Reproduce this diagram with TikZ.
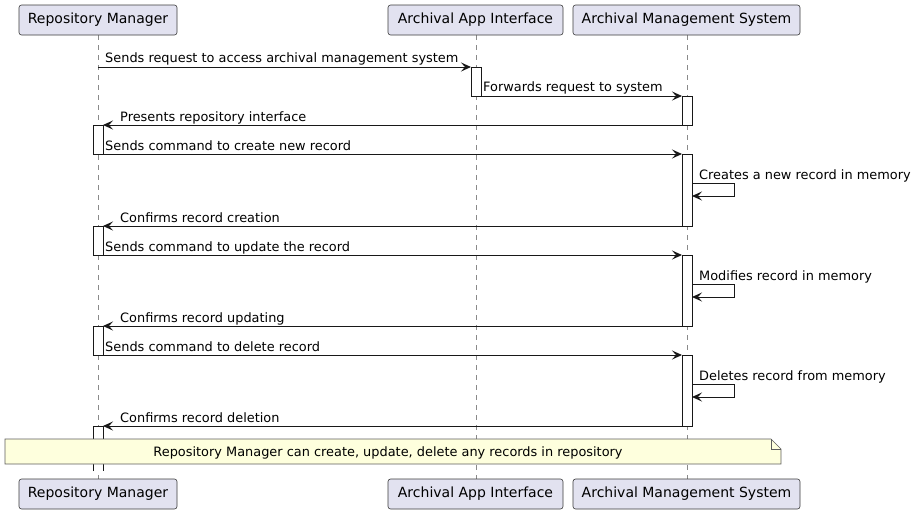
\documentclass[tikz,border=0pt]{standalone}
\usepackage{fontspec}
\setmainfont{DejaVu Sans}
\usetikzlibrary{arrows.meta}
\definecolor{partfill}{HTML}{E2E2F0}
\definecolor{ink}{HTML}{181818}
\definecolor{notefill}{HTML}{FEFFDD}
\definecolor{lifegray}{HTML}{8A8A8A}
\tikzset{
 part/.style={draw=ink!85, fill=partfill, rounded corners=2.5pt, line width=0.6pt, minimum height=30pt, inner sep=0pt, font=\fontsize{14}{16}\selectfont, text=black},
 msg/.style={draw=ink, line width=1pt, -{Stealth[length=10pt,width=9pt,inset=4pt]}},
 lbl/.style={font=\fontsize{12.9}{15}\selectfont, anchor=base west, inner sep=0pt, text=black},
 life/.style={draw=lifegray, line width=0.7pt, dash pattern=on 5pt off 5pt},
 actbar/.style={draw=ink, fill=white, line width=1pt},
 notebox/.style={draw=ink!70, fill=notefill, line width=0.6pt},
}
\begin{document}
\begin{tikzpicture}[x=1pt,y=-1pt]
\useasboundingbox (0,0) rectangle (917,514);
% lifelines
\coordinate (rmT) at (98,35); \coordinate (rmB) at (98,479);
\coordinate (aaT) at (476,35); \coordinate (aaB) at (476,479);
\coordinate (amT) at (687,35); \coordinate (amB) at (687,479);
\draw[life] (rmT) -- (rmB);
\draw[life] (aaT) -- (aaB);
\draw[life] (amT) -- (amB);
% participants
\node[part, minimum width=158pt] (rm1) at (98,20) {Repository Manager};
\node[part, minimum width=175pt] (aa1) at (475.5,20) {Archival App Interface};
\node[part, minimum width=227pt] (am1) at (686.5,20) {Archival Management System};
\node[part, minimum width=158pt] (rm2) at (98,494) {Repository Manager};
\node[part, minimum width=175pt] (aa2) at (475.5,494) {Archival App Interface};
\node[part, minimum width=227pt] (am2) at (686.5,494) {Archival Management System};
% activation bars
\draw[actbar] (471,67) rectangle (481,96);
\draw[actbar] (682,96) rectangle (692,125);
\draw[actbar] (93,125) rectangle (103,154);
\draw[actbar] (682,154) rectangle (692,226);
\draw[actbar] (93,226) rectangle (103,255);
\draw[actbar] (682,255) rectangle (692,326);
\draw[actbar] (93,326) rectangle (103,355);
\draw[actbar] (682,355) rectangle (692,426);
\fill[white] (93,426) rectangle (103,471);
\draw[actbar] (93,471) -- (93,426) -- (103,426) -- (103,471);
% message endpoints
\coordinate (m1s) at (98,67);  \coordinate (m1e) at (471,67);
\coordinate (m2s) at (481,96); \coordinate (m2e) at (682,96);
\coordinate (m3s) at (682,125); \coordinate (m3e) at (103,125);
\coordinate (m4s) at (103,154); \coordinate (m4e) at (682,154);
\coordinate (m6s) at (682,226); \coordinate (m6e) at (103,226);
\coordinate (m7s) at (103,255); \coordinate (m7e) at (682,255);
\coordinate (m9s) at (682,326); \coordinate (m9e) at (103,326);
\coordinate (m10s) at (103,355); \coordinate (m10e) at (682,355);
\coordinate (m12s) at (682,426); \coordinate (m12e) at (103,426);
\draw[msg] (m1s) -- (m1e);
\draw[msg] (m2s) -- (m2e);
\draw[msg] (m3s) -- (m3e);
\draw[msg] (m4s) -- (m4e);
\draw[msg] (692,183) -- (734,183) -- (734,196) -- (692,196);
\draw[msg] (m6s) -- (m6e);
\draw[msg] (m7s) -- (m7e);
\draw[msg] (692,284) -- (734,284) -- (734,297) -- (692,297);
\draw[msg] (m9s) -- (m9e);
\draw[msg] (m10s) -- (m10e);
\draw[msg] (692,384) -- (734,384) -- (734,397) -- (692,397);
\draw[msg] (m12s) -- (m12e);
% labels
\node[lbl] (t1) at (105,62) {Sends request to access archival management system};
\node[lbl] (t2) at (483,91) {Forwards request to system};
\node[lbl] (t3) at (120,121) {Presents repository interface};
\node[lbl] (t4) at (105,150) {Sends command to create new record};
\node[lbl] (t5) at (699,179) {Creates a new record in memory};
\node[lbl] (t6) at (120,222) {Confirms record creation};
\node[lbl] (t7) at (105,251) {Sends command to update the record};
\node[lbl] (t8) at (699,280) {Modifies record in memory};
\node[lbl] (t9) at (120,322) {Confirms record updating};
\node[lbl] (t10) at (105,351) {Sends command to delete record};
\node[lbl] (t11) at (699,380) {Deletes record from memory};
\node[lbl] (t12) at (120,422) {Confirms record deletion};
% note
\draw[notebox] (5,439) -- (771,439) -- (781,449) -- (781,464) -- (5,464) -- cycle;
\draw[notebox, fill=none] (771,439) -- (771,449) -- (781,449);
\node[font=\fontsize{12.9}{15}\selectfont, inner sep=0pt] (note) at (388,452.5) {Repository Manager can create, update, delete any records in repository};
\end{tikzpicture}
\end{document}
